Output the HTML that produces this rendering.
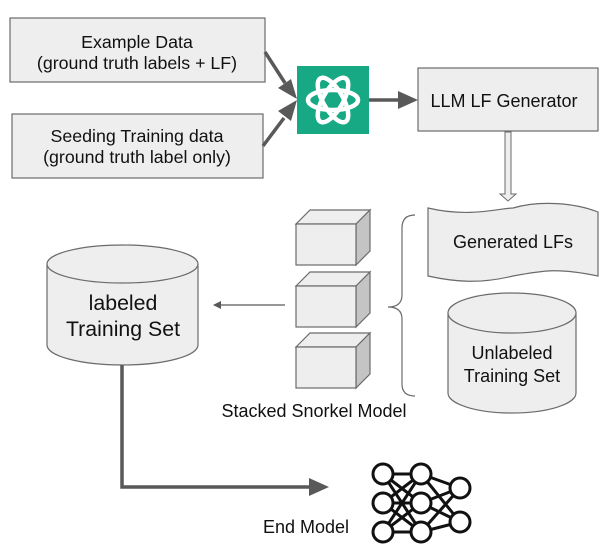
<!DOCTYPE html>
<html><head><meta charset="utf-8"><style>
html,body{margin:0;padding:0;background:#fff;}
svg{display:block;}
text{font-family:"Liberation Sans",sans-serif;fill:#111;}
</style></head><body>
<svg width="603" height="551" viewBox="0 0 603 551" xmlns="http://www.w3.org/2000/svg">
<defs>
<marker id="ab" markerWidth="8" markerHeight="8" refX="7" refY="4" orient="auto" markerUnits="userSpaceOnUse"><path d="M0,0 L8,4 L0,8z" fill="#595959"/></marker>
</defs>
<rect x="10" y="18" width="255" height="64" fill="#eeeeee" stroke="#6b6b6b" stroke-width="1.2"/>
<text x="137" y="48" font-size="17.8" text-anchor="middle">Example Data</text>
<text x="137" y="69" font-size="17.8" text-anchor="middle">(ground truth labels + LF)</text>
<rect x="12" y="114" width="251" height="64" fill="#eeeeee" stroke="#6b6b6b" stroke-width="1.2"/>
<text x="137" y="142" font-size="17.8" text-anchor="middle">Seeding Training data</text>
<text x="137" y="163" font-size="17.8" text-anchor="middle">(ground truth label only)</text>
<line x1="265" y1="52" x2="285" y2="83" stroke="#595959" stroke-width="3.5"/>
<path d="M297,99 L278,88 L291,79z" fill="#595959"/>
<line x1="263" y1="146" x2="284" y2="118" stroke="#595959" stroke-width="3.5"/>
<path d="M297,100 L291,121 L278,111z" fill="#595959"/>
<rect x="297" y="66" width="72" height="68" fill="#17a884"/>
<g transform="translate(333,100)" fill="none" stroke="#fff" stroke-width="4.5">
<ellipse rx="25" ry="10" transform="rotate(0)"/>
<ellipse rx="25" ry="10" transform="rotate(60)"/>
<ellipse rx="25" ry="10" transform="rotate(120)"/>
</g>
<line x1="369" y1="100" x2="400" y2="100" stroke="#595959" stroke-width="3.5"/>
<path d="M418,100 L398,91 L398,109z" fill="#595959"/>
<rect x="418" y="68" width="180" height="63" fill="#eeeeee" stroke="#6b6b6b" stroke-width="1.2"/>
<text x="504" y="107" font-size="18" text-anchor="middle">LLM LF Generator</text>
<path d="M505,132 L511,132 L511,194 L516,194 L508,201 L500,194 L505,194z" fill="#eeeeee" stroke="#6b6b6b" stroke-width="1"/>
<path d="M428,208 C470,218 500,208 513,208 C540,200 575,203 598,212 L598,276 C560,268 545,270 513,276 C480,284 455,282 428,276 Z" fill="#eeeeee" stroke="#6b6b6b" stroke-width="1.2"/>
<text x="513" y="248" font-size="18" text-anchor="middle">Generated LFs</text>
<path d="M448,313 L448,393 A64,20 0 0 0 576,393 L576,313" fill="#eeeeee" stroke="#6b6b6b" stroke-width="1.2"/>
<ellipse cx="512" cy="313" rx="64" ry="20" fill="#eeeeee" stroke="#6b6b6b" stroke-width="1.2"/>
<text x="512" y="359" font-size="18" text-anchor="middle">Unlabeled</text>
<text x="512" y="382" font-size="18" text-anchor="middle">Training Set</text>
<path d="M415,215 Q402,215 402,228 L402,295 Q402,307 388,307 Q402,307 402,319 L402,384 Q402,396 415,396" fill="none" stroke="#6b6b6b" stroke-width="1.2"/>
<g fill="#eeeeee" stroke="#6b6b6b" stroke-width="1.2">
<g>
<path d="M296,224 L310,210 L370,210 L356,224z"/>
<path d="M356,224 L370,210 L370,251 L356,265z" fill="#c4c4c4"/>
<rect x="296" y="224" width="60" height="41"/>
</g>
<g transform="translate(0,62)">
<path d="M296,224 L310,210 L370,210 L356,224z"/>
<path d="M356,224 L370,210 L370,251 L356,265z" fill="#c4c4c4"/>
<rect x="296" y="224" width="60" height="41"/>
</g>
<g transform="translate(0,123)">
<path d="M296,224 L310,210 L370,210 L356,224z"/>
<path d="M356,224 L370,210 L370,251 L356,265z" fill="#c4c4c4"/>
<rect x="296" y="224" width="60" height="41"/>
</g>
</g>
<text x="314" y="417" font-size="18" text-anchor="middle">Stacked Snorkel Model</text>
<line x1="285" y1="305" x2="214" y2="305" stroke="#595959" stroke-width="1.3" marker-end="url(#ab)"/>
<path d="M47,264 L47,345 A75.5,20 0 0 0 198,345 L198,264" fill="#eeeeee" stroke="#6b6b6b" stroke-width="1.2"/>
<ellipse cx="122.5" cy="264" rx="75.5" ry="19" fill="#eeeeee" stroke="#6b6b6b" stroke-width="1.2"/>
<text x="123" y="310" font-size="21.3" text-anchor="middle">labeled</text>
<text x="123" y="336" font-size="21.3" text-anchor="middle">Training Set</text>
<path d="M122,365 L122,487 L312,487" fill="none" stroke="#595959" stroke-width="3.5"/>
<path d="M329,487 L309,478 L309,496z" fill="#595959"/>
<text x="306" y="533" font-size="18" text-anchor="middle">End Model</text>
<g stroke="#111" stroke-width="3" fill="none">
<line x1="383" y1="474" x2="421" y2="474"/><line x1="383" y1="474" x2="421" y2="503"/><line x1="383" y1="474" x2="421" y2="532"/>
<line x1="383" y1="503" x2="421" y2="474"/><line x1="383" y1="503" x2="421" y2="503"/><line x1="383" y1="503" x2="421" y2="532"/>
<line x1="383" y1="532" x2="421" y2="474"/><line x1="383" y1="532" x2="421" y2="503"/><line x1="383" y1="532" x2="421" y2="532"/>
<line x1="421" y1="474" x2="460" y2="488"/><line x1="421" y1="474" x2="460" y2="522"/>
<line x1="421" y1="503" x2="460" y2="488"/><line x1="421" y1="503" x2="460" y2="522"/>
<line x1="421" y1="532" x2="460" y2="488"/><line x1="421" y1="532" x2="460" y2="522"/>
</g>
<g stroke="#111" stroke-width="3" fill="#fff">
<circle cx="383" cy="474" r="10"/><circle cx="383" cy="503" r="10"/><circle cx="383" cy="532" r="10"/>
<circle cx="421" cy="474" r="10"/><circle cx="421" cy="503" r="10"/><circle cx="421" cy="532" r="10"/>
<circle cx="460" cy="488" r="10"/><circle cx="460" cy="522" r="10"/>
</g>
</svg>
</body></html>
